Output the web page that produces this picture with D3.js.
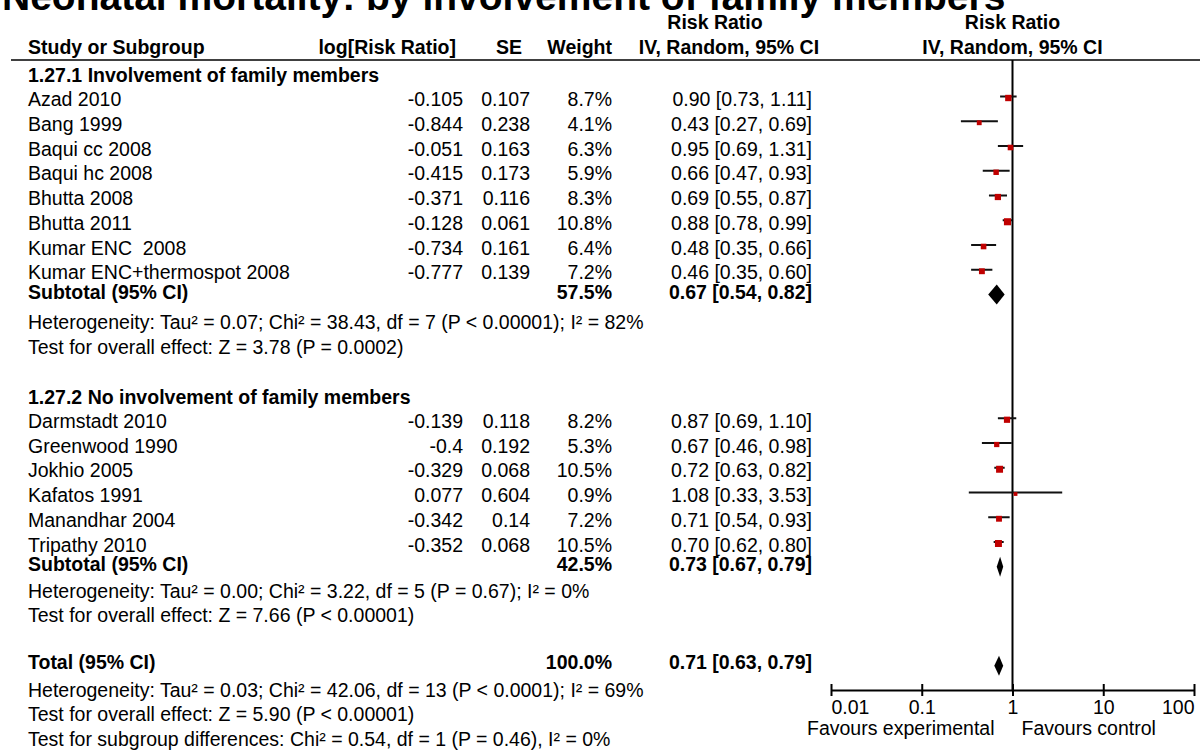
<!DOCTYPE html>
<html>
<head>
<meta charset="utf-8">
<script src="https://cdn.jsdelivr.net/npm/d3@7"></script>
<style>
  body { margin: 0; background: #fff; }
  text { font-family: "Liberation Sans", Arial, sans-serif; white-space: pre; }
</style>
</head>
<body>
<div id="chart"></div>
<script>
var title = "Neonatal mortality: by involvement of family members";
var groupTitles = ["1.27.1 Involvement of family members", "1.27.2 No involvement of family members"];

var studies1 = ["Azad 2010", "Bang 1999", "Baqui cc 2008", "Baqui hc 2008", "Bhutta 2008", "Bhutta 2011", "Kumar ENC  2008", "Kumar ENC+thermospot 2008"];
var logRR1 = [-0.105, -0.844, -0.051, -0.415, -0.371, -0.128, -0.734, -0.777];
var se1 = [0.107, 0.238, 0.163, 0.173, 0.116, 0.061, 0.161, 0.139];
var weight1 = [8.7, 4.1, 6.3, 5.9, 8.3, 10.8, 6.4, 7.2];
var rr1 = [0.90, 0.43, 0.95, 0.66, 0.69, 0.88, 0.48, 0.46];
var lo1 = [0.73, 0.27, 0.69, 0.47, 0.55, 0.78, 0.35, 0.35];
var hi1 = [1.11, 0.69, 1.31, 0.93, 0.87, 0.99, 0.66, 0.60];

var studies2 = ["Darmstadt 2010", "Greenwood 1990", "Jokhio 2005", "Kafatos 1991", "Manandhar 2004", "Tripathy 2010"];
var logRR2 = [-0.139, -0.4, -0.329, 0.077, -0.342, -0.352];
var se2 = [0.118, 0.192, 0.068, 0.604, 0.14, 0.068];
var weight2 = [8.2, 5.3, 10.5, 0.9, 7.2, 10.5];
var rr2 = [0.87, 0.67, 0.72, 1.08, 0.71, 0.70];
var lo2 = [0.69, 0.46, 0.63, 0.33, 0.54, 0.62];
var hi2 = [1.10, 0.98, 0.82, 3.53, 0.93, 0.80];

var subtotalWeight = [57.5, 42.5];
var subtotalRR = [0.67, 0.73];
var subtotalLo = [0.54, 0.67];
var subtotalHi = [0.82, 0.79];
var heterogeneity = [
    "Heterogeneity: Tau² = 0.07; Chi² = 38.43, df = 7 (P < 0.00001); I² = 82%",
    "Heterogeneity: Tau² = 0.00; Chi² = 3.22, df = 5 (P = 0.67); I² = 0%"
];
var overallTests = [
    "Test for overall effect: Z = 3.78 (P = 0.0002)",
    "Test for overall effect: Z = 7.66 (P < 0.00001)"
];

var totalWeight = 100.0;
var totalRR = 0.71, totalLo = 0.63, totalHi = 0.79;
var totalNotes = [
    "Heterogeneity: Tau² = 0.03; Chi² = 42.06, df = 13 (P < 0.0001); I² = 69%",
    "Test for overall effect: Z = 5.90 (P < 0.00001)",
    "Test for subgroup differences: Chi² = 0.54, df = 1 (P = 0.46), I² = 0%"
];

var axisTicks = [0.01, 0.1, 1, 10, 100];
var axisTickLabels = ["0.01", "0.1", "1", "10", "100"];
var favours = ["Favours experimental", "Favours control"];

function init() {
    var width = 1200;
    var height = 753;
    var fs = 19.5;
    var rowStep = 24.75;
    var firstRow = 96.5;

    // column anchors
    var nameX = 28;
    var logX = 463;
    var seX = 530;
    var wX = 612;
    var ciX = 812;

    var svg = d3.select("#chart")
        .append("svg")
        .attr("width", width)
        .attr("height", height);

    var x = d3.scaleLog()
        .domain([0.01, 100])
        .range([831, 1194]);

    function rowY(k) { return firstRow + k * rowStep; }
    function fmtRR(r, l, h) { return r.toFixed(2) + " [" + l.toFixed(2) + ", " + h.toFixed(2) + "]"; }

    function txt(str, tx, ty, anchor, bold, size) {
        return svg.append("text")
            .attr("x", tx)
            .attr("y", ty)
            .attr("text-anchor", anchor || "start")
            .attr("font-weight", bold ? "bold" : "normal")
            .attr("font-size", size || fs)
            .attr("fill", "#000")
            .text(str);
    }

    // title (clipped by the top edge)
    txt(title, 2, 10, "start", true, 39);

    // headers
    txt("Risk Ratio", 715, 29, "middle", true);
    txt("Risk Ratio", x(1), 29, "middle", true);
    txt("Study or Subgroup", nameX, 54, "start", true);
    txt("log[Risk Ratio]", logX - 7, 54, "end", true);
    txt("SE", seX - 8, 54, "end", true);
    txt("Weight", wX, 54, "end", true);
    txt("IV, Random, 95% CI", 729, 54, "middle", true);
    txt("IV, Random, 95% CI", x(1), 54, "middle", true);

    svg.append("line")
        .attr("x1", 11).attr("x2", width)
        .attr("y1", 60).attr("y2", 60)
        .attr("stroke", "#000").attr("stroke-width", 1.6);

    // line of no effect
    svg.append("line")
        .attr("x1", x(1)).attr("x2", x(1))
        .attr("y1", 60).attr("y2", 690)
        .attr("stroke", "#000").attr("stroke-width", 2);

    var groups = [
        { names: studies1, logRR: logRR1, se: se1, w: weight1, rr: rr1, lo: lo1, hi: hi1 },
        { names: studies2, logRR: logRR2, se: se2, w: weight2, rr: rr2, lo: lo2, hi: hi2 }
    ];

    function diamond(k, r, l, h) {
        var cy = rowY(k);
        var pts = [[x(l), cy], [x(r), cy - 10], [x(h), cy], [x(r), cy + 10]];
        svg.append("path")
            .attr("d", d3.line()(pts) + "Z")
            .attr("fill", "#000");
    }

    var k = -1;
    groups.forEach(function (g, gi) {
        var noteOff = gi === 0 ? 9.5 : 6;
        txt(groupTitles[gi], nameX, rowY(k) + 10, "start", true);
        k++;
        g.names.forEach(function (name, i) {
            var y = rowY(k);
            txt(name, nameX, y + 9.5);
            txt(String(g.logRR[i]), logX, y + 9.5, "end");
            txt(String(g.se[i]), seX, y + 9.5, "end");
            txt(g.w[i].toFixed(1) + "%", wX, y + 9.5, "end");
            txt(fmtRR(g.rr[i], g.lo[i], g.hi[i]), ciX, y + 9.5, "end");

            svg.append("line")
                .attr("x1", x(g.lo[i])).attr("x2", x(g.hi[i]))
                .attr("y1", y).attr("y2", y)
                .attr("stroke", "#111").attr("stroke-width", 2);
            var s = 3.5 + 0.33 * g.w[i];
            svg.append("rect")
                .attr("x", x(g.rr[i]) - s / 2)
                .attr("y", y + 1.5 - s / 2)
                .attr("width", s).attr("height", s)
                .attr("fill", "#c00000");
            k++;
        });
        // subtotal
        txt("Subtotal (95% CI)", nameX, rowY(k) + 4.5, "start", true);
        txt(subtotalWeight[gi].toFixed(1) + "%", wX, rowY(k) + 4.5, "end", true);
        txt(fmtRR(subtotalRR[gi], subtotalLo[gi], subtotalHi[gi]), ciX, rowY(k) + 4.5, "end", true);
        diamond(k, subtotalRR[gi], subtotalLo[gi], subtotalHi[gi]);
        k++;
        txt(heterogeneity[gi], nameX, rowY(k) + noteOff);
        k++;
        txt(overallTests[gi], nameX, rowY(k) + noteOff);
        k += 2;
    });

    // overall total
    txt("Total (95% CI)", nameX, rowY(k) + 3, "start", true);
    txt(totalWeight.toFixed(1) + "%", wX, rowY(k) + 3, "end", true);
    txt(fmtRR(totalRR, totalLo, totalHi), ciX, rowY(k) + 3, "end", true);
    diamond(k, totalRR, totalLo, totalHi);
    k++;
    var axisY = rowY(k) - 0.5;
    totalNotes.forEach(function (note) {
        txt(note, nameX, rowY(k) + 6);
        k++;
    });

    // log axis
    var axis = d3.axisBottom(x)
        .tickValues(axisTicks)
        .tickFormat(function (d, i) { return axisTickLabels[i]; })
        .tickSizeInner(6)
        .tickSizeOuter(0);

    var ax = svg.append("g")
        .attr("transform", "translate(0," + axisY + ")")
        .call(axis);
    ax.select(".domain").attr("stroke-width", 2);
    ax.selectAll(".tick line").attr("y1", -6).attr("y2", 6).attr("stroke-width", 2);
    ax.selectAll(".tick text")
        .attr("font-family", "Liberation Sans, Arial, sans-serif")
        .attr("font-size", fs)
        .attr("dy", null)
        .attr("y", 24)
        .attr("text-anchor", function (d, i) {
            return i === 0 ? "start" : (i === axisTicks.length - 1 ? "end" : "middle");
        });

    txt(favours[0], x(1) - 18, axisY + 45, "end");
    txt(favours[1], x(1) + 9, axisY + 45, "start");
}

window.onload = init;
</script>
</body>
</html>
